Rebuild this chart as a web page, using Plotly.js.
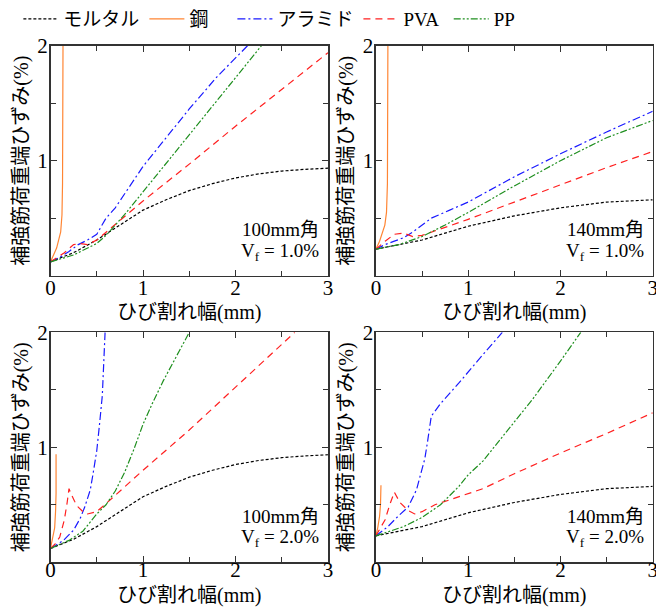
<!DOCTYPE html>
<html><head><meta charset="utf-8">
<script src="https://cdn.plot.ly/plotly-3.0.1.min.js"></script>
<style>body{margin:0;background:#fff}#c{width:656px;height:607px}</style>
</head><body><div id="c"></div>
<script>
// Series names
const seriesNames = ["モルタル", "鋼", "アラミド", "PVA", "PP"];
const xTicks = [0, 1, 2, 3];
const yTicks = [1, 2];
const panelLabels = ["100mm角", "140mm角", "100mm角", "140mm角"];
const vfLabels = ["1.0%", "1.0%", "2.0%", "2.0%"];

// --- 100mm, Vf=1.0% ---
const mortar100_x = [0, 0.25, 0.5, 0.75, 1, 1.25, 1.5, 1.75, 2, 2.25, 2.5, 2.75, 3];
const mortar100_y = [0.12, 0.2, 0.31, 0.44, 0.57, 0.66, 0.74, 0.8, 0.85, 0.885, 0.91, 0.925, 0.935];
const steelA_x = [0, 0.03, 0.066, 0.11, 0.124, 0.13, 0.135, 0.135];
const steelA_y = [0.12, 0.17, 0.24, 0.38, 0.53, 0.8, 1.3, 2.0];
const aramidA_x = [0, 0.1, 0.2, 0.3, 0.4, 0.5, 0.6, 0.7, 0.8, 1.0, 1.2, 1.5, 1.8, 2.13];
const aramidA_y = [0.12, 0.16, 0.21, 0.27, 0.31, 0.36, 0.5, 0.59, 0.71, 0.95, 1.15, 1.45, 1.73, 2.0];
const pvaA_x = [0, 0.15, 0.25, 0.32, 0.4, 0.5, 1, 1.5, 2, 2.5, 3];
const pvaA_y = [0.12, 0.2, 0.27, 0.28, 0.27, 0.31, 0.65, 0.97, 1.3, 1.62, 1.94];
const ppA_x = [0, 0.25, 0.5, 0.6, 0.8, 1, 1.25, 1.5, 1.75, 2, 2.28];
const ppA_y = [0.12, 0.18, 0.28, 0.35, 0.53, 0.73, 0.97, 1.22, 1.47, 1.72, 2.0];

// --- 140mm, Vf=1.0% ---
const mortar140_x = [0, 0.25, 0.5, 0.75, 1, 1.5, 2, 2.5, 3];
const mortar140_y = [0.23, 0.27, 0.31, 0.37, 0.43, 0.52, 0.59, 0.64, 0.66];
const steelB_x = [0, 0.04, 0.097, 0.115, 0.125, 0.13, 0.13];
const steelB_y = [0.23, 0.3, 0.44, 0.55, 0.8, 1.3, 2.0];
const aramidB_x = [0, 0.1, 0.2, 0.3, 0.4, 0.5, 0.6, 0.8, 1, 1.5, 2, 2.5, 3];
const aramidB_y = [0.23, 0.27, 0.3, 0.33, 0.38, 0.44, 0.5, 0.57, 0.64, 0.86, 1.06, 1.25, 1.43];
const pvaB_x = [0, 0.1, 0.2, 0.3, 0.4, 0.5, 0.75, 1, 1.5, 2, 2.5, 3];
const pvaB_y = [0.23, 0.3, 0.36, 0.37, 0.34, 0.35, 0.42, 0.49, 0.64, 0.79, 0.94, 1.08];
const ppB_x = [0, 0.25, 0.5, 0.75, 1, 1.5, 2, 2.5, 3];
const ppB_y = [0.23, 0.27, 0.34, 0.44, 0.55, 0.78, 1.0, 1.2, 1.35];

// --- 100mm, Vf=2.0% ---
const steelC_x = [0, 0.02, 0.045, 0.055, 0.06, 0.06];
const steelC_y = [0.12, 0.19, 0.3, 0.45, 0.6, 0.94];
const aramidC_x = [0, 0.14, 0.25, 0.32, 0.37, 0.43, 0.46, 0.5, 0.53, 0.56, 0.59];
const aramidC_y = [0.12, 0.19, 0.28, 0.38, 0.48, 0.63, 0.77, 0.97, 1.2, 1.45, 2.0];
const pvaC_x = [0, 0.05, 0.1, 0.15, 0.18, 0.2, 0.22, 0.26, 0.3, 0.35, 0.4, 0.5, 0.6, 1, 1.5, 2, 2.64];
const pvaC_y = [0.12, 0.16, 0.22, 0.37, 0.52, 0.64, 0.6, 0.53, 0.48, 0.44, 0.42, 0.44, 0.51, 0.8, 1.15, 1.52, 2.0];
const ppC_x = [0, 0.2, 0.35, 0.5, 0.6, 0.7, 0.8, 0.9, 1.0, 1.1, 1.22, 1.35, 1.5];
const ppC_y = [0.12, 0.19, 0.27, 0.42, 0.5, 0.62, 0.78, 0.98, 1.2, 1.38, 1.58, 1.78, 2.0];

// --- 140mm, Vf=2.0% ---
const steelD_x = [0, 0.02, 0.04, 0.05, 0.055];
const steelD_y = [0.23, 0.3, 0.4, 0.5, 0.67];
const aramidD_x = [0, 0.13, 0.24, 0.35, 0.44, 0.49, 0.53, 0.56, 0.6, 0.7, 0.9, 1.1, 1.37];
const aramidD_y = [0.23, 0.31, 0.4, 0.48, 0.63, 0.77, 0.9, 1.05, 1.27, 1.38, 1.56, 1.75, 2.0];
const pvaD_x = [0, 0.1, 0.15, 0.2, 0.26, 0.35, 0.42, 0.5, 0.64, 1, 1.16, 1.5, 2, 2.5, 3];
const pvaD_y = [0.23, 0.37, 0.5, 0.61, 0.52, 0.45, 0.42, 0.44, 0.5, 0.6, 0.64, 0.77, 0.95, 1.12, 1.3];
const ppD_x = [0, 0.3, 0.5, 0.7, 0.9, 1.0, 1.16, 1.4, 1.7, 2.0, 2.22];
const ppD_y = [0.23, 0.31, 0.39, 0.5, 0.66, 0.76, 0.88, 1.12, 1.42, 1.75, 2.0];

const styles = [
  {color: "#000000", dash: "3px,2px"},
  {color: "#ff8533", dash: "solid"},
  {color: "#1a1aff", dash: "8px,3px,2px,3px"},
  {color: "#ff2020", dash: "7px,5px"},
  {color: "#1f8f1f", dash: "7px,2px,2px,2px,2px,2px"}
];

const panels = [
  [[mortar100_x, mortar100_y], [steelA_x, steelA_y], [aramidA_x, aramidA_y], [pvaA_x, pvaA_y], [ppA_x, ppA_y]],
  [[mortar140_x, mortar140_y], [steelB_x, steelB_y], [aramidB_x, aramidB_y], [pvaB_x, pvaB_y], [ppB_x, ppB_y]],
  [[mortar100_x, mortar100_y], [steelC_x, steelC_y], [aramidC_x, aramidC_y], [pvaC_x, pvaC_y], [ppC_x, ppC_y]],
  [[mortar140_x, mortar140_y], [steelD_x, steelD_y], [aramidD_x, aramidD_y], [pvaD_x, pvaD_y], [ppD_x, ppD_y]]
];

const FONT = "'Liberation Serif', 'Times New Roman', 'Noto Sans CJK JP', serif";
const legendPad = ["", "\u00a0\u00a0\u00a0\u00a0", "", "\u00a0", ""];
const traces = [];
panels.forEach((p, pi) => {
  const sfx = pi === 0 ? "" : String(pi + 1);
  p.forEach((s, si) => {
    traces.push({
      x: s[0], y: s[1], type: "scatter", mode: "lines",
      name: seriesNames[si] + legendPad[si], legendgroup: seriesNames[si],
      showlegend: pi === 0,
      line: {color: styles[si].color, dash: styles[si].dash, width: 1.2},
      xaxis: "x" + sfx, yaxis: "y" + sfx, cliponaxis: true
    });
  });
});

const xDomains = [[0.077, 0.5], [0.573, 0.995], [0.077, 0.5], [0.573, 0.995]];
const yDomains = [[0.5486, 0.9292], [0.5486, 0.9292], [0.0741, 0.4547], [0.0741, 0.4547]];
const xLabelShift = [-7, -7, -12, -12];
const xTitleStandoff = [5, 5, 13, 13];

const layout = {
  width: 656, height: 607,
  margin: {l: 0, r: 0, t: 0, b: 0},
  paper_bgcolor: "#fff", plot_bgcolor: "#fff",
  font: {family: FONT, size: 19, color: "#000"},
  showlegend: true,
  legend: {orientation: "h", x: 0.028, y: 1.005, yanchor: "top", xanchor: "left",
           font: {family: FONT, size: 19}, itemwidth: 35, traceorder: "normal", tracegroupgap: 0},
  annotations: []
};

for (let i = 0; i < 4; i++) {
  const sfx = i === 0 ? "" : String(i + 1);
  layout["xaxis" + sfx] = {
    domain: xDomains[i], anchor: "y" + sfx, range: [0, 3],
    tickvals: xTicks, ticks: "inside", ticklen: 6, tickcolor: "#333",
    minor: {dtick: 0.5, tick0: 0, ticks: "inside", ticklen: 5, tickcolor: "#333"},
    showline: true, linecolor: "#333", linewidth: 1.5, mirror: "allticks",
    showgrid: false, zeroline: false, ticklabeloverflow: "allow",
    ticklabelstandoff: xLabelShift[i],
    tickfont: {family: FONT, size: 21},
    title: {text: "ひび割れ幅(mm)", font: {family: FONT, size: 20}, standoff: xTitleStandoff[i]}
  };
  layout["yaxis" + sfx] = {
    domain: yDomains[i], anchor: "x" + sfx, range: [0, 2],
    tickvals: yTicks, ticks: "inside", ticklen: 6, tickcolor: "#333",
    minor: {dtick: 0.5, tick0: 0, ticks: "inside", ticklen: 5, tickcolor: "#333"},
    showline: true, linecolor: "#333", linewidth: 1.5, mirror: "allticks",
    showgrid: false, zeroline: false, ticklabeloverflow: "allow",
    ticklabelstandoff: -3,
    tickfont: {family: FONT, size: 21},
    title: {text: "補強筋荷重端ひずみ(%)", font: {family: FONT, size: 20}, standoff: 3}
  };
  layout.annotations.push({
    xref: "x" + sfx + " domain", yref: "y" + sfx + " domain",
    x: 0.975, y: 0.2, xanchor: "right", yanchor: "middle", showarrow: false,
    text: panelLabels[i], font: {family: FONT, size: 19}
  });
  layout.annotations.push({
    xref: "x" + sfx + " domain", yref: "y" + sfx + " domain",
    x: 0.975, y: 0.105, xanchor: "right", yanchor: "middle", showarrow: false,
    text: "V<sub>f</sub> = " + vfLabels[i], font: {family: FONT, size: 19}
  });
}

Plotly.newPlot("c", traces, layout, {staticPlot: true, displayModeBar: false});
</script>
</body></html>
